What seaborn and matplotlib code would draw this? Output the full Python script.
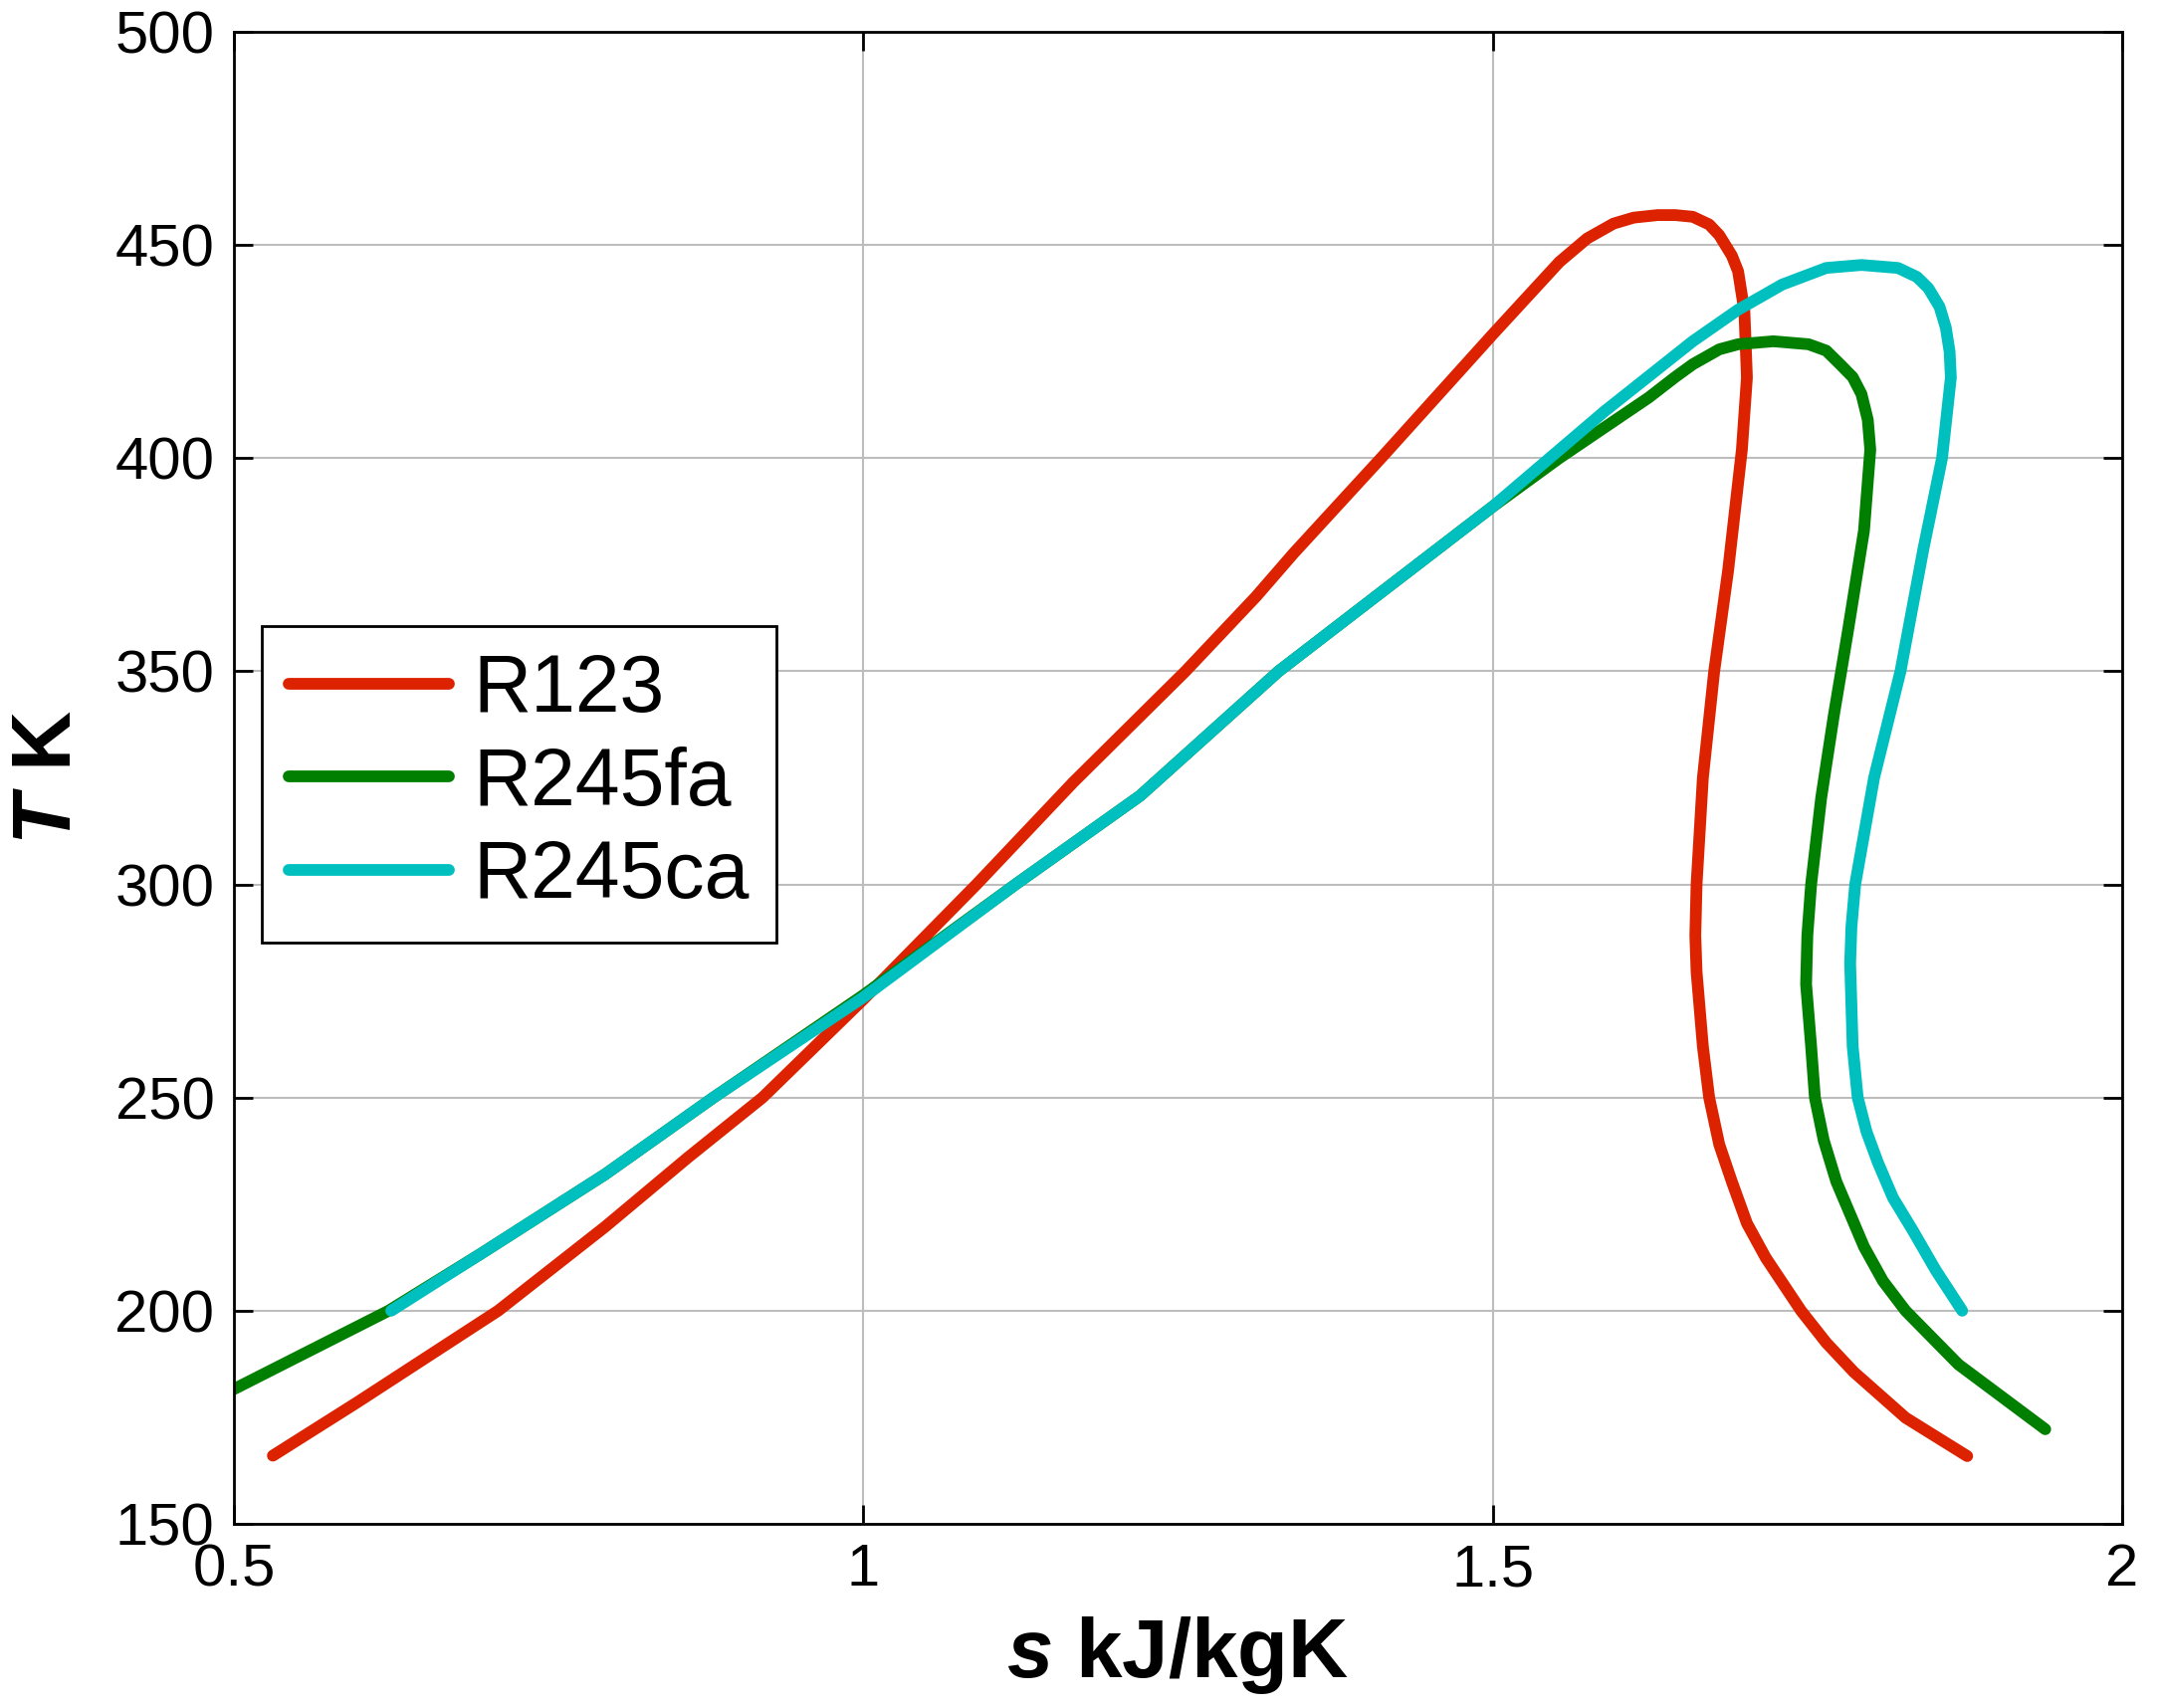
import pandas as pd
import matplotlib
matplotlib.use('Agg')
import matplotlib.pyplot as plt
import seaborn as sns

# T-s saturation curves (s in kJ/kgK, T in K)
r123_s = [0.531, 0.598, 0.71, 0.795, 0.861, 0.92, 1.0, 1.09, 1.167, 1.256, 1.312, 1.342,
          1.412, 1.5, 1.553, 1.575, 1.596, 1.612, 1.631, 1.645, 1.659, 1.672, 1.680,
          1.690, 1.695, 1.700, 1.702, 1.698, 1.687, 1.676, 1.667, 1.662, 1.661, 1.662,
          1.667, 1.672, 1.680, 1.690, 1.702, 1.717, 1.745, 1.765, 1.787, 1.828, 1.877]
r123_T = [166, 178.5, 200, 219.7, 236, 250, 273, 300, 324, 350, 367.5, 377.7,
          400.2, 429, 446, 451.5, 455, 456.4, 457, 457, 456.6, 454.8, 452.3,
          447.5, 443.8, 434.4, 418.9, 402, 373.5, 350, 325, 300, 288, 279.5,
          262, 250, 239, 230.3, 220.5, 212.4, 200, 192.5, 185.6, 174.9, 165.9]

r245fa_s = [0.5, 0.623, 0.697, 0.795, 0.881, 1.0, 1.121, 1.220, 1.330, 1.407, 1.5, 1.553,
            1.624, 1.645, 1.659, 1.680, 1.695, 1.723, 1.751, 1.765, 1.776, 1.786, 1.793,
            1.798, 1.800, 1.795, 1.782, 1.771, 1.761, 1.753, 1.750, 1.749, 1.753, 1.756,
            1.763, 1.773, 1.795, 1.810, 1.828, 1.870, 1.939]
r245fa_T = [181.6, 200, 213.5, 232, 250, 274, 300, 320.8, 350, 367.5, 388.6, 400,
            414.2, 419, 422, 425.5, 426.7, 427.4, 426.7, 425.2, 422, 419, 415,
            409, 402, 383, 359, 339.6, 320.3, 300, 288, 276.6, 262, 250,
            240, 230.3, 215, 207, 200, 187.4, 172.2]

r245ca_s = [0.625, 0.697, 0.795, 0.881, 1.0, 1.121, 1.220, 1.330, 1.407, 1.5, 1.589,
            1.659, 1.695, 1.730, 1.765, 1.793, 1.822, 1.837, 1.846, 1.855, 1.860, 1.863,
            1.864, 1.857, 1.842, 1.824, 1.803, 1.788, 1.785, 1.784, 1.786, 1.790, 1.797,
            1.806, 1.818, 1.834, 1.852, 1.873]
r245ca_T = [200, 213.5, 232, 250, 273.5, 300, 320.8, 350, 367.5, 388.6, 411,
            427.4, 434.8, 440.7, 444.6, 445.3, 444.6, 442.5, 439.9, 435.5, 430.6, 425,
            418.9, 400, 378.4, 350, 325, 300, 290, 281.5, 262, 250, 242,
            234.8, 226.5, 218.7, 209.5, 200]

fluids = ['R123', 'R245fa', 'R245ca']
colors = ['#DD2200', '#007F00', '#00BFBF']

df = pd.concat([
    pd.DataFrame({'s': r123_s, 'T': r123_T, 'fluid': 'R123'}),
    pd.DataFrame({'s': r245fa_s, 'T': r245fa_T, 'fluid': 'R245fa'}),
    pd.DataFrame({'s': r245ca_s, 'T': r245ca_T, 'fluid': 'R245ca'}),
], ignore_index=True)

sns.set_style('ticks')
plt.rcParams['font.family'] = ['Liberation Sans', 'DejaVu Sans']
plt.rcParams['text.color'] = 'black'
plt.rcParams['axes.labelcolor'] = 'black'
plt.rcParams['mathtext.fontset'] = 'custom'
plt.rcParams['mathtext.it'] = 'Liberation Sans:italic:bold'
plt.rcParams['mathtext.rm'] = 'Liberation Sans:bold'

fig = plt.figure(figsize=(21.67, 17.16), dpi=100)
ax = fig.add_axes([0.1084, 0.1078, 0.8754, 0.8736])

sns.lineplot(data=df, x='s', y='T', hue='fluid', hue_order=fluids,
             palette=colors, sort=False, estimator=None, linewidth=8.5, ax=ax)

ax.set_xlim(0.5, 2)
ax.set_ylim(150, 500)
ax.set_xticks([0.5, 1, 1.5, 2])
ax.set_xticklabels(['0.5', '1', '1.5', '2'])
ax.set_yticks(range(150, 501, 50))
ax.grid(True, color='#bdbdbd', linewidth=1.5)
ax.set_axisbelow(True)

for sp in ax.spines.values():
    sp.set_visible(True)
    sp.set_linewidth(2)
    sp.set_color('black')

ax.tick_params(direction='in', length=14, width=2, top=True, right=True,
               labelsize=43, pad=14, colors='black')

ax.set_xlabel(r'$s$ kJ/kgK', fontsize=60, fontweight='bold', labelpad=12)
ax.set_ylabel(r'$T$ K', fontsize=60, fontweight='bold', labelpad=20)

leg = ax.legend(loc='upper left', bbox_to_anchor=(0.0148, 0.602), borderaxespad=0,
                fontsize=58, frameon=True, fancybox=False, framealpha=1,
                edgecolor='black', handlelength=2.0, handletextpad=0.3,
                labelspacing=0.22, borderpad=0.34)
leg.get_frame().set_linewidth(2)
for t in leg.get_texts():
    t.set_color('black')

plt.savefig('out.png', dpi=100)
